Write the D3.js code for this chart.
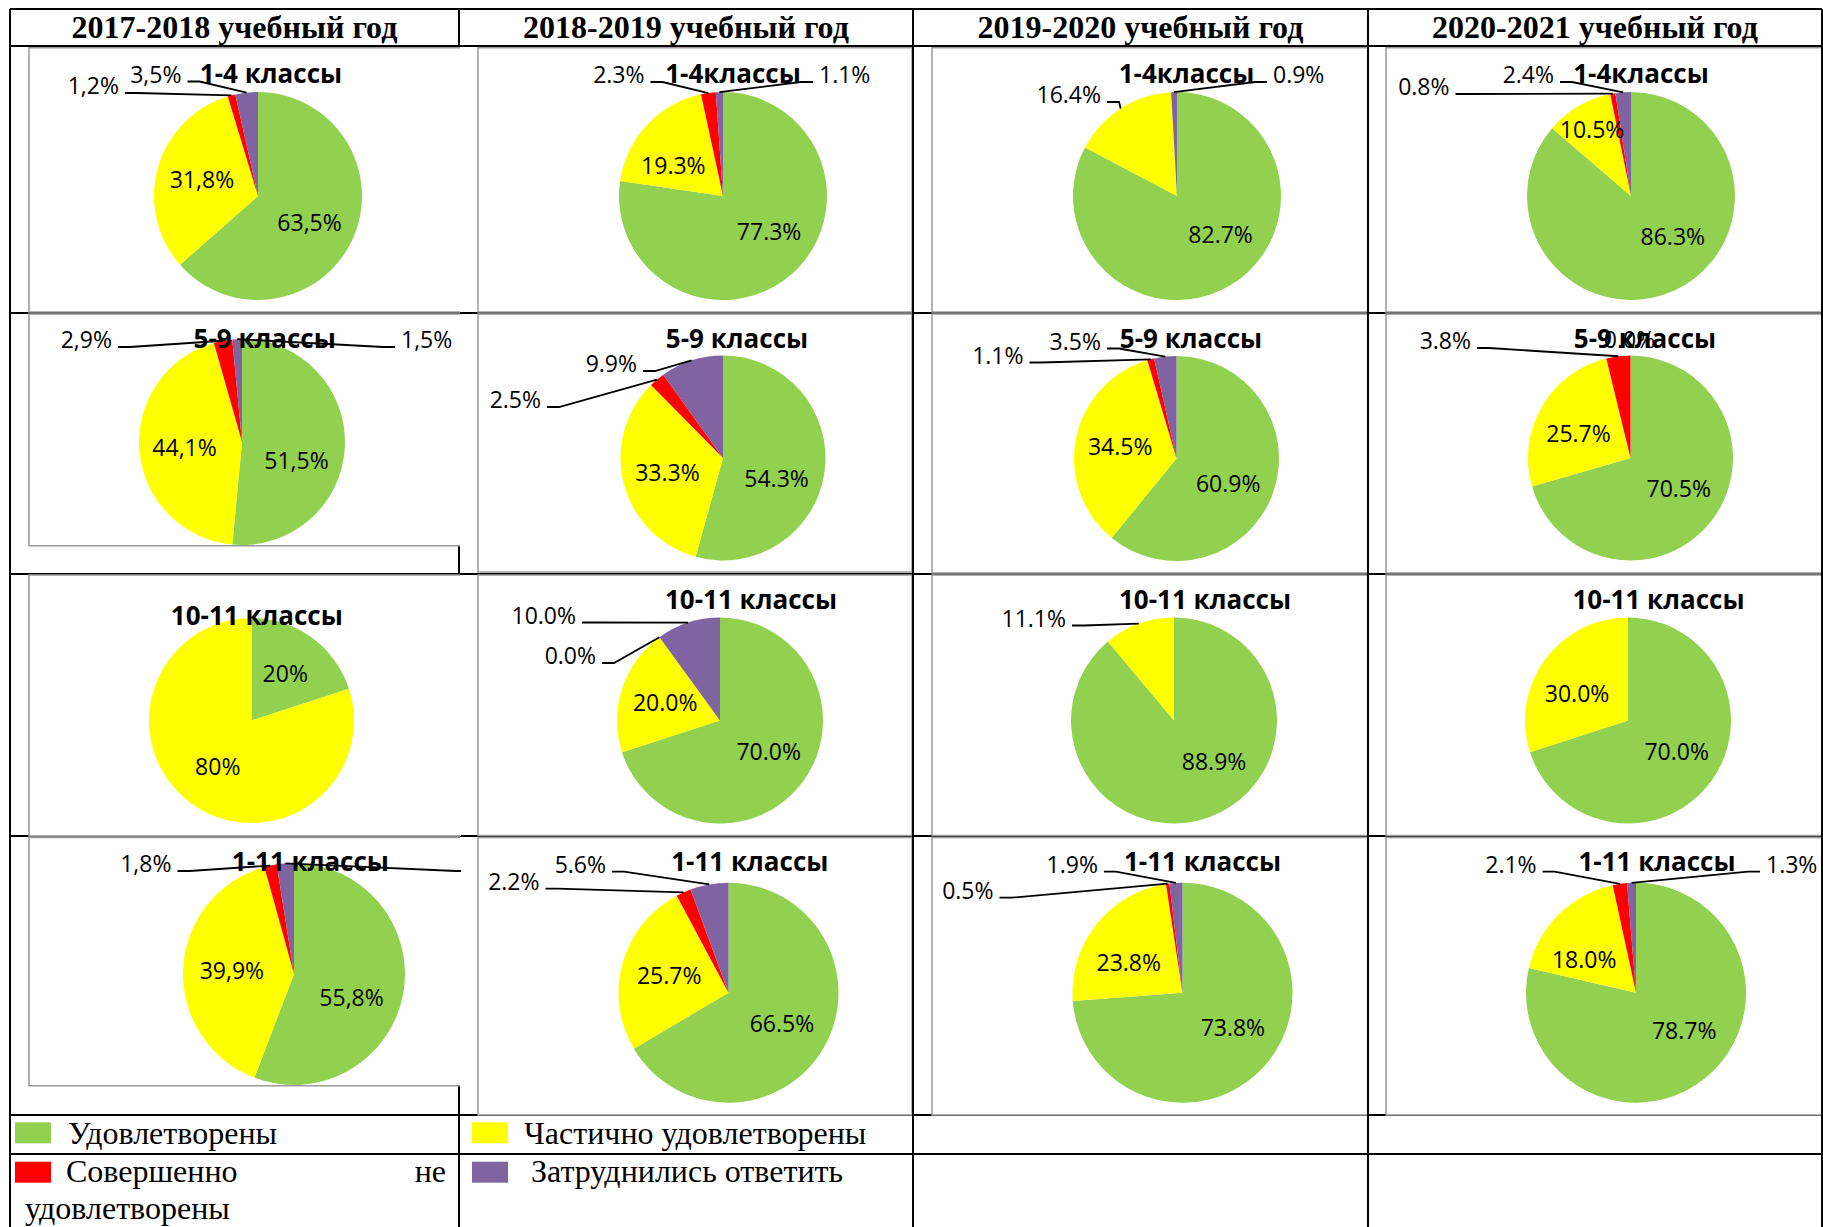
<!DOCTYPE html>
<html lang="ru">
<head>
    <meta charset="UTF-8">
    <title>Удовлетворенность по годам</title>
    <script src="https://d3js.org/d3.v7.min.js"></script>
    <style>
        body { margin: 0; padding: 0; background-color: white; }
        svg { display: block; }
        .head { font-family: 'Liberation Serif', 'Times New Roman', serif; font-weight: bold; font-size: 32px; }
        .ctitle { font-family: 'Open Sans', sans-serif; font-weight: bold; font-size: 26px; }
        .lbl { font-family: 'Open Sans', sans-serif; font-size: 23px; }
        .leg { font-family: 'Liberation Serif', 'Times New Roman', serif; font-size: 32px; }
    </style>
</head>
<body>
<div id="chart"></div>
<script type="text/javascript">
    // --- data ---
    const years = ["2017-2018 учебный год", "2018-2019 учебный год", "2019-2020 учебный год", "2020-2021 учебный год"];
    const categories = ["Удовлетворены", "Частично удовлетворены", "Совершенно не удовлетворены", "Затруднились ответить"];
    const colors = ["#92D050", "#FFFF00", "#FF0000", "#8064A2"];
    const rowTitles = [
        ["1-4 классы", "1-4классы", "1-4классы", "1-4классы"],
        ["5-9 классы", "5-9 классы", "5-9 классы", "5-9 классы"],
        ["10-11 классы", "10-11 классы", "10-11 классы", "10-11 классы"],
        ["1-11 классы", "1-11 классы", "1-11 классы", "1-11 классы"]
    ];
    // one row per year: [удовл., частично, совершенно не, затруднились]; null = no slice/label
    const values1to4 = [[63.5, 31.8, 1.2, 3.5], [77.3, 19.3, 2.3, 1.1], [82.7, 16.4, null, 0.9], [86.3, 10.5, 0.8, 2.4]];
    const values5to9 = [[51.5, 44.1, 2.9, 1.5], [54.3, 33.3, 2.5, 9.9], [60.9, 34.5, 1.1, 3.5], [70.5, 25.7, 3.8, 0.0]];
    const values10to11 = [[20, 80, null, null], [70.0, 20.0, 0.0, 10.0], [88.9, 11.1, null, null], [70.0, 30.0, null, null]];
    const values1to11 = [[55.8, 39.9, 1.8, 2.5], [66.5, 25.7, 2.2, 5.6], [73.8, 23.8, 0.5, 1.9], [78.7, 18.0, 2.1, 1.3]];
    const allValues = [values1to4, values5to9, values10to11, values1to11];
    const decimalSep = [",", ".", ".", "."];
    const labelDigits = [[1, 1, 1, 1], [1, 1, 1, 1], [0, 1, 1, 1], [1, 1, 1, 1]];

    // --- layout ---
    const W = 1823, H = 1227;
    const colX = [10, 459, 913, 1368, 1822];
    const rowY = [9, 46, 313, 574, 836, 1115, 1154];
    const boxX = [[29, 461], [478, 912], [932, 1368], [1386, 1823]];
    const boxY = [
        [[47.7, 312], [314, 545.7], [575, 836], [837.5, 1085.7]],
        [[47.7, 312], [314, 572], [575, 835.5], [837.5, 1115]],
        [[47.7, 312], [314, 573], [575, 835.5], [837.5, 1115]],
        [[47.7, 312], [314, 573], [575, 835.5], [837.5, 1115]]
    ];
    const pieLayout = [
        [[258, 196, 104], [723, 196, 104], [1177, 196, 104], [1631, 196, 104]],
        [[242, 442, 103], [723, 458, 102.5], [1176.5, 458.5, 102.5], [1630.5, 458, 102.5]],
        [[251.5, 720.5, 102.5], [720, 720.5, 103], [1174, 720.5, 103], [1628, 720.5, 103]],
        [[294, 974, 111], [728.5, 992.7, 110], [1182.5, 992.7, 110], [1636, 992.7, 110]]
    ];
    const titlePos = [
        [[271, 82.7], [733, 82.7], [1186.5, 82.7], [1641, 82.7]],
        [[264.7, 348.3], [737, 348.3], [1191, 348.3], [1645, 348.3]],
        [[256.8, 625], [751, 609.3], [1205, 609.3], [1658.5, 609.3]],
        [[310.4, 870.7], [749.8, 870.7], [1202.5, 870.7], [1657, 870.7]]
    ];
    // callout labels: [slice, dx, dy, side] relative to pie centre (dx/dy = label edge, baseline)
    // side: l = label left of pie, r = right, c = centred without leader, x = leader only (label cut off)
    const callouts = {
        "0-0": [[2, -139, -102, "l"], [3, -76.5, -113.5, "l"]],
        "0-1": [[2, -78.5, -113, "l"], [3, 96, -113, "r"]],
        "0-2": [[1, -76, -93, "l"], [3, 96, -113, "r"]],
        "0-3": [[2, -181.5, -101, "l"], [3, -77, -113, "l"]],
        "1-0": [[2, -130, -94, "l"], [3, 159, -94, "r"]],
        "1-1": [[2, -182, -50, "l"], [3, -86, -86, "l"]],
        "1-2": [[2, -153, -95, "l"], [3, -75.6, -109, "l"]],
        "1-3": [[2, -159.5, -109, "l"], [3, -1, -110, "c"]],
        "2-1": [[2, -124, -56.5, "l"], [3, -144, -97, "l"]],
        "2-2": [[1, -108, -94, "l"]],
        "3-0": [[2, -122.5, -102, "l"], [3, 180, -102, "x"]],
        "3-1": [[2, -189, -103, "l"], [3, -122.5, -120, "l"]],
        "3-2": [[2, -189, -94, "l"], [3, -84.6, -120, "l"]],
        "3-3": [[2, -99.4, -120, "l"], [3, 130, -120, "r"]]
    };

    const svg = d3.select("#chart").append("svg").attr("width", W).attr("height", H);
    const color = d3.scaleOrdinal(categories, colors);
    const pie = d3.pie().sort(null).value(d => d.v || 0);
    const gray = "#9a9a9a";
    const deg = Math.PI / 180;

    // Excel-like "best fit" for inside labels: big slices pulled toward the horizontal
    function insideAngle(a) {
        const mid = (a.startAngle + a.endAngle) / 2 / deg;
        const share = (a.endAngle - a.startAngle) / (2 * Math.PI);
        if (a.data.i === 0 && share > 0.45) return (120 + (mid - 120) * 0.4) * deg;
        if (share > 0.15 && mid > 290) return (290 + (mid - 290) * 0.5) * deg;
        return mid * deg;
    }

    // table grid (under the charts)
    const grid = svg.append("g").attr("stroke", "#000").attr("stroke-width", 2);
    rowY.forEach(y => grid.append("line").attr("x1", colX[0]).attr("x2", colX[4]).attr("y1", y).attr("y2", y));
    colX.forEach(x => grid.append("line").attr("x1", x).attr("x2", x).attr("y1", rowY[0]).attr("y2", H));

    // headers
    years.forEach((t, i) => {
        svg.append("text").attr("class", "head")
            .attr("x", (colX[i] + colX[i + 1]) / 2).attr("y", 37.5)
            .attr("text-anchor", "middle").text(t);
    });

    const defs = svg.append("defs");

    allValues.forEach((rowVals, r) => {
        rowVals.forEach((vals, c) => {
            const [x0, x1] = boxX[c];
            const [y0, y1] = boxY[c][r];
            const id = `clip-${r}-${c}`;
            defs.append("clipPath").attr("id", id)
                .append("rect").attr("x", x0).attr("y", y0).attr("width", x1 - x0).attr("height", y1 - y0);

            // chart area box
            svg.append("rect").attr("x", x0).attr("y", y0).attr("width", x1 - x0).attr("height", y1 - y0)
                .attr("fill", "white")
                .attr("stroke", c === 0 ? "none" : gray).attr("stroke-width", 1.5);
            if (c === 0) {
                svg.append("path")
                    .attr("d", `M${x1 - 1},${y0}H${x0}V${y1}H${x1 - 1}`)
                    .attr("fill", "none").attr("stroke", gray).attr("stroke-width", 1.5);
            }

            const g = svg.append("g").attr("clip-path", `url(#${id})`);
            const [cx, cy, rad] = pieLayout[r][c];
            const data = vals.map((v, i) => ({ v: v, cat: categories[i], i: i }));
            const arcs = pie(data);
            const arc = d3.arc().innerRadius(0).outerRadius(rad);
            const pg = g.append("g").attr("transform", `translate(${cx},${cy})`);

            pg.selectAll("path").data(arcs.filter(a => a.data.v)).join("path")
                .attr("d", arc)
                .attr("fill", a => color(a.data.cat));

            // chart title
            g.append("text").attr("class", "ctitle")
                .attr("x", titlePos[r][c][0]).attr("y", titlePos[r][c][1])
                .attr("text-anchor", "middle").text(rowTitles[r][c]);

            const fmt = v => v.toFixed(labelDigits[r][c]).replace(".", decimalSep[c]) + "%";
            const outs = callouts[`${r}-${c}`] || [];
            const outIdx = outs.map(o => o[0]);

            // inside labels
            pg.selectAll("text.in").data(arcs.filter(a => a.data.v != null && !outIdx.includes(a.data.i)))
                .join("text").attr("class", "lbl in")
                .attr("transform", a => {
                    const share = (a.endAngle - a.startAngle) / (2 * Math.PI);
                    const d = rad * (share < 0.12 ? 0.74 : 0.56);
                    const t = insideAngle(a);
                    return `translate(${d * Math.sin(t)},${-d * Math.cos(t)})`;
                })
                .attr("text-anchor", "middle").attr("dy", "0.36em")
                .text(a => fmt(a.data.v));

            // callout labels with leader lines
            outs.forEach(([si, dx, dy, side]) => {
                const a = arcs[si];
                const mid = (a.startAngle + a.endAngle) / 2;
                const ex = cx + rad * Math.sin(mid), ey = cy - rad * Math.cos(mid);
                const lx = cx + dx, ly = cy + dy;
                if (side !== "c") {
                    const sx = side === "l" ? lx + 6 : lx - 6;
                    const kx = side === "l" ? sx + 12 : sx - 12;
                    g.append("polyline")
                        .attr("points", `${sx},${ly - 1} ${kx},${ly - 1} ${ex},${ey}`)
                        .attr("fill", "none").attr("stroke", "#000").attr("stroke-width", 1.8);
                }
                if (side === "x") return;
                g.append("text").attr("class", "lbl")
                    .attr("x", lx).attr("y", ly)
                    .attr("text-anchor", side === "l" ? "end" : side === "r" ? "start" : "middle")
                    .text(fmt(a.data.v));
            });
        });
    });

    // column separators on top of the chart boxes
    const sepLines = svg.append("g").attr("stroke", "#000").attr("stroke-width", 2);
    [colX[0], colX[2], colX[3], colX[4]].forEach(x =>
        sepLines.append("line").attr("x1", x).attr("x2", x).attr("y1", rowY[0]).attr("y2", H));

    // legend
    const legPos = [[15, 1122.3, 68, 1144], [472, 1122.3, 524, 1144], [15, 1161.7, 66, 1182], [472, 1161.7, 531, 1182]];
    categories.forEach((name, i) => {
        const [mx, my, tx, ty] = legPos[i];
        svg.append("rect").attr("x", mx).attr("y", my).attr("width", 36).attr("height", 21)
            .attr("fill", color(name));
        const cellRight = (i % 2 === 0 ? colX[1] : colX[2]) - 13;
        const t = svg.append("text").attr("class", "leg").attr("x", tx).attr("y", ty).text(name);
        if (tx + t.node().getComputedTextLength() > cellRight) {
            // justified wrap: last word goes to the next line
            const words = name.split(" ");
            const last = words.pop();
            t.text(words[0]);
            if (words.length > 1) {
                svg.append("text").attr("class", "leg").attr("x", cellRight).attr("y", ty)
                    .attr("text-anchor", "end").text(words.slice(1).join(" "));
            }
            svg.append("text").attr("class", "leg").attr("x", 25).attr("y", ty + 36.5).text(last);
        }
    });
</script>
</body>
</html>
